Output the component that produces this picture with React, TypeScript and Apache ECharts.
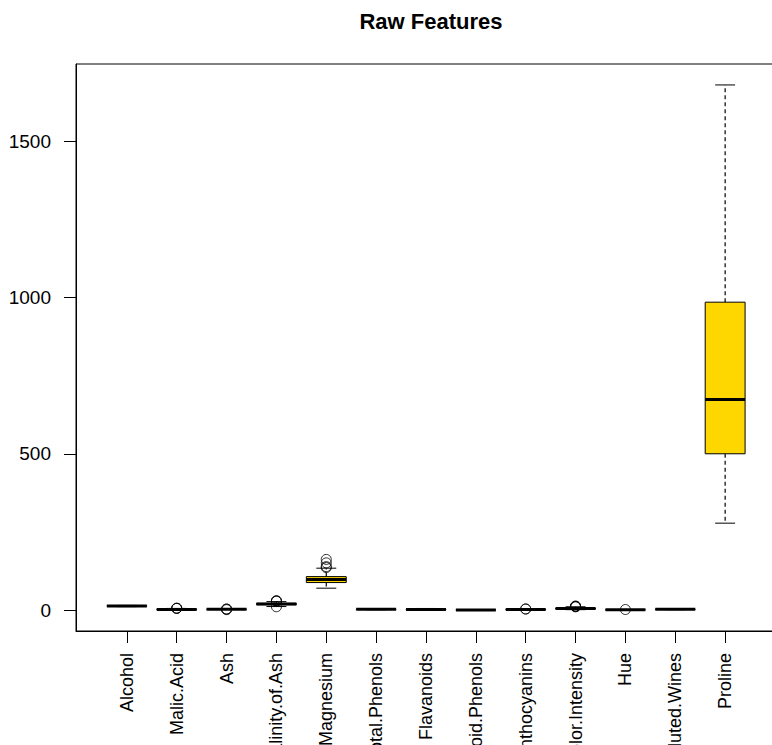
import React, { useEffect, useRef } from "react";
import * as echarts from "echarts";

const features = [
  "Alcohol",
  "Malic.Acid",
  "Ash",
  "Alcalinity.of.Ash",
  "Magnesium",
  "Total.Phenols",
  "Flavanoids",
  "Nonflavanoid.Phenols",
  "Proanthocyanins",
  "Color.Intensity",
  "Hue",
  "OD280.OD315.of.Diluted.Wines",
  "Proline",
];

const whiskerLow = [11.03, 0.74, 1.7, 11.2, 70, 0.98, 0.34, 0.13, 0.41, 1.28, 0.48, 1.27, 278];
const q1 = [12.36, 1.6, 2.21, 17.2, 88, 1.74, 1.205, 0.27, 1.25, 3.22, 0.78, 1.94, 500];
const medians = [13.05, 1.865, 2.36, 19.5, 98, 2.355, 2.135, 0.34, 1.555, 4.69, 0.965, 2.78, 673.5];
const q3 = [13.68, 3.08, 2.56, 21.5, 107, 2.8, 2.875, 0.437, 1.95, 6.2, 1.12, 3.17, 985];
const whiskerHigh = [14.83, 5.19, 2.92, 27.0, 134, 3.88, 5.08, 0.66, 2.96, 10.52, 1.45, 4.0, 1680];

const outliers: number[][] = [
  [],
  [5.8, 5.51, 5.65],
  [1.36, 3.22, 3.23],
  [10.6, 30.0, 28.5, 28.5],
  [151, 139, 136, 162],
  [],
  [],
  [],
  [3.28, 3.58],
  [10.8, 13.0, 11.75, 10.68],
  [1.71],
  [],
  [],
];

const yTicks = [0, 500, 1000, 1500];
const yMin = -67;
const yMax = 1747;
const xMin = -0.02;
const xMax = 14.02;

const FONT = "'Liberation Sans', Arial, Helvetica, sans-serif";

export default function App() {
  const ref = useRef<HTMLDivElement>(null);

  useEffect(() => {
    if (!ref.current) return;
    const chart = echarts.init(ref.current, undefined, { renderer: "svg" });

    const boxData = features.map((_, i) => [
      i + 1,
      whiskerLow[i],
      q1[i],
      medians[i],
      q3[i],
      whiskerHigh[i],
    ]);
    const outlierData: number[][] = [];
    outliers.forEach((arr, i) => arr.forEach((v) => outlierData.push([i + 1, v])));

    const option: any = {
      animation: false,
      backgroundColor: "#fff",
      title: {
        text: "Raw Features",
        left: 426,
        textAlign: "center",
        top: 5,
        textStyle: { fontFamily: FONT, fontWeight: "bold", fontSize: 22, color: "#000" },
      },
      grid: {
        left: 76,
        right: -4,
        top: 64,
        bottom: 114,
        show: true,
        containLabel: false,
        outerBoundsMode: "none",
        borderColor: "#000",
        borderWidth: 1,
        backgroundColor: "transparent",
      },
      xAxis: {
        type: "value",
        min: xMin,
        max: xMax,
        splitLine: { show: false },
        axisLine: { show: true, onZero: false, lineStyle: { color: "#000", width: 1 } },
        axisTick: {
          show: true,
          length: 12,
          customValues: features.map((_, i) => i + 1),
          lineStyle: { color: "#000" },
        },
        axisLabel: {
          show: true,
          rotate: 90,
          margin: 22,
          hideOverlap: false,
          customValues: features.map((_, i) => i + 1),
          formatter: (v: number) => features[Math.round(v) - 1] ?? "",
          fontFamily: FONT,
          fontSize: 18,
          color: "#000",
        },
      },
      yAxis: {
        type: "value",
        min: yMin,
        max: yMax,
        splitLine: { show: false },
        axisLine: { show: true, onZero: false, lineStyle: { color: "#000", width: 1 } },
        axisTick: {
          show: true,
          length: 12,
          customValues: yTicks,
          lineStyle: { color: "#000" },
        },
        axisLabel: {
          show: true,
          margin: 25,
          customValues: yTicks,
          formatter: (v: number) => String(v),
          fontFamily: FONT,
          fontSize: 19,
          color: "#000",
        },
      },
      series: [
        {
          type: "custom",
          data: boxData,
          encode: { x: 0, y: [1, 2, 3, 4, 5] },
          renderItem: (params: any, api: any) => {
            const x = api.value(0);
            const lo = api.coord([x, api.value(1)]);
            const b1 = api.coord([x, api.value(2)]);
            const md = api.coord([x, api.value(3)]);
            const b3 = api.coord([x, api.value(4)]);
            const hi = api.coord([x, api.value(5)]);
            const w = api.size([0.8, 0])[0];
            const cx = lo[0];
            const dashStyle = { stroke: "#000", lineWidth: 1.2, lineDash: [4, 3] };
            const solid = { stroke: "#000", lineWidth: 1 };
            return {
              type: "group",
              children: [
                { type: "line", shape: { x1: cx, y1: b3[1], x2: cx, y2: hi[1] }, style: dashStyle },
                { type: "line", shape: { x1: cx, y1: b1[1], x2: cx, y2: lo[1] }, style: dashStyle },
                { type: "line", shape: { x1: cx - w / 4, y1: hi[1], x2: cx + w / 4, y2: hi[1] }, style: solid },
                { type: "line", shape: { x1: cx - w / 4, y1: lo[1], x2: cx + w / 4, y2: lo[1] }, style: solid },
                {
                  type: "rect",
                  shape: { x: cx - w / 2, y: b3[1], width: w, height: b1[1] - b3[1] },
                  style: { fill: "#FFD700", stroke: "#000", lineWidth: 1 },
                },
                {
                  type: "line",
                  shape: { x1: cx - w / 2, y1: md[1], x2: cx + w / 2, y2: md[1] },
                  style: { stroke: "#000", lineWidth: 3 },
                },
              ],
            };
          },
          z: 2,
        },
        {
          type: "scatter",
          data: outlierData,
          symbol: "circle",
          symbolSize: 10,
          itemStyle: { color: "rgba(255,255,255,0)", borderColor: "#000", borderWidth: 1 },
          z: 3,
        },
      ],
    };

    chart.setOption(option);
    return () => chart.dispose();
  }, []);

  return (
    <div
      ref={ref}
      style={{ position: "fixed", left: 0, top: 0, width: 772, height: 745, background: "#fff" }}
    />
  );
}
